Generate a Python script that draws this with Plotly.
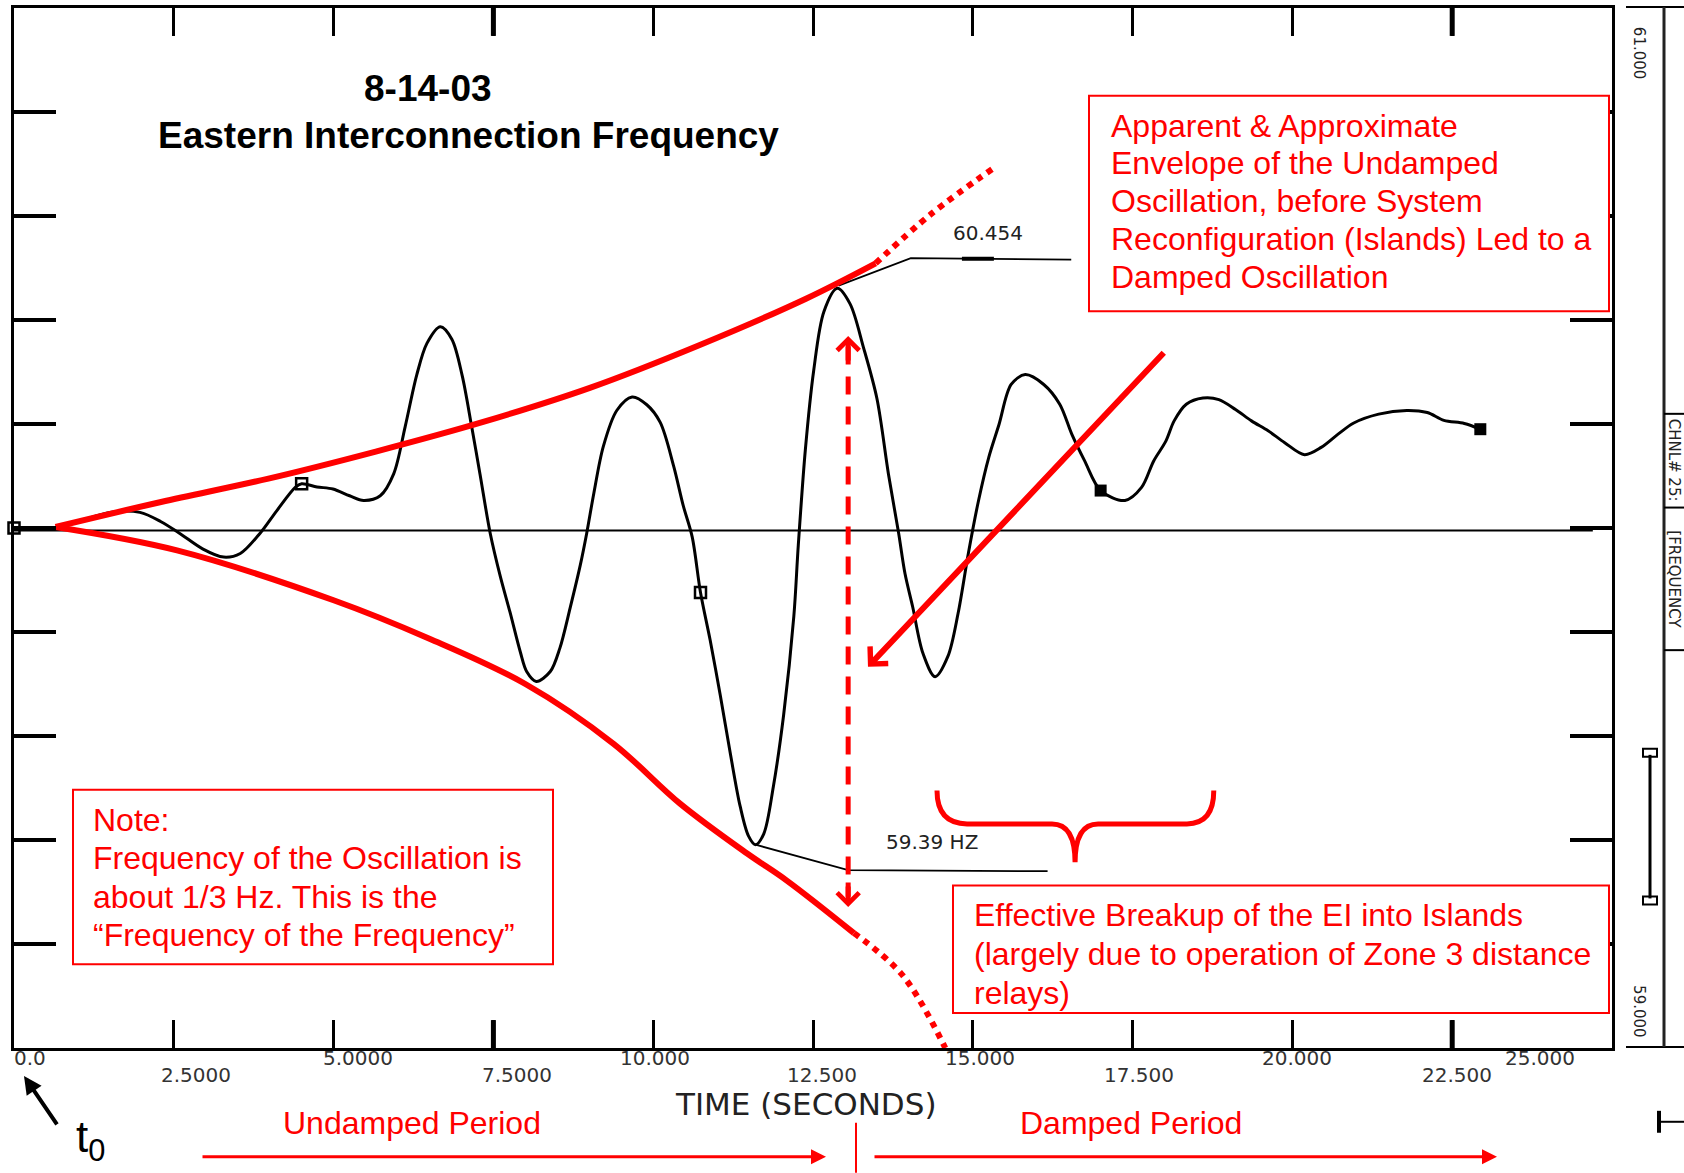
import plotly.graph_objects as go

# ------------------------------------------------------------------ data
T_SEC = [0.0, 0.6, 1.0, 1.5, 1.97, 2.30, 2.60, 2.95, 3.28, 3.54, 3.85, 4.11, 4.40, 4.50,
         4.74, 4.99, 5.25, 5.47, 5.73, 5.94, 6.12, 6.30, 6.46, 6.67, 6.85, 7.01, 7.16,
         7.29, 7.45, 7.61, 7.76, 7.92, 8.02, 8.17, 8.39, 8.54, 8.70, 8.86, 8.96, 9.07,
         9.22, 9.43, 9.67, 9.90, 10.11, 10.32, 10.47, 10.61, 10.74, 10.89, 11.05, 11.21,
         11.36, 11.49, 11.60, 11.73, 11.88, 12.04, 12.20, 12.27, 12.38, 12.51, 12.67,
         12.88, 13.08, 13.29, 13.50, 13.68, 13.84, 13.94, 14.06, 14.22, 14.41, 14.61,
         14.77, 14.93, 15.09, 15.25, 15.41, 15.60, 15.82, 16.11, 16.36, 16.55, 16.75,
         17.00, 17.38, 17.64, 17.83, 18.02, 18.15, 18.34, 18.60, 18.85, 19.11, 19.36,
         19.62, 19.88, 20.19, 20.45, 20.71, 20.96, 21.35, 21.79, 22.11, 22.37, 22.69, 22.94]
FREQ_HZ = [60.000, 60.000, 60.012, 60.030, 60.030, 60.012, 59.989, 59.960, 59.944, 59.951,
           59.990, 60.033, 60.078, 60.085, 60.079, 60.075, 60.062, 60.053, 60.062, 60.104,
           60.195, 60.294, 60.355, 60.387, 60.363, 60.294, 60.195, 60.104, 59.990, 59.906,
           59.838, 59.762, 59.724, 59.705, 59.724, 59.769, 59.846, 59.929, 59.990, 60.066,
           60.157, 60.226, 60.252, 60.237, 60.203, 60.119, 60.043, 59.983, 59.876, 59.785,
           59.678, 59.564, 59.465, 59.408, 59.391, 59.412, 59.503, 59.640, 59.830, 59.967,
           60.150, 60.302, 60.416, 60.461, 60.431, 60.347, 60.249, 60.104, 59.990, 59.912,
           59.848, 59.759, 59.714, 59.753, 59.836, 59.951, 60.053, 60.136, 60.199, 60.276,
           60.295, 60.276, 60.238, 60.180, 60.129, 60.072, 60.053, 60.078, 60.129, 60.167,
           60.206, 60.238, 60.250, 60.247, 60.228, 60.206, 60.187, 60.164, 60.141, 60.155,
           60.180, 60.202, 60.219, 60.226, 60.222, 60.207, 60.201, 60.190]

MARK_OPEN_T = [0.0, 4.50, 10.74]
MARK_OPEN_F = [60.000, 60.085, 59.876]
MARK_FILL_T = [17.00, 22.94]
MARK_FILL_F = [60.072, 60.190]

ENV_UP_T = [0.65, 2.30, 3.98, 5.66, 7.34, 9.02, 10.71, 12.39, 13.48]
ENV_UP_F = [60.002, 60.050, 60.095, 60.147, 60.204, 60.270, 60.351, 60.441, 60.509]
ENV_UP_DOT_T = [13.48, 14.34, 15.30]
ENV_UP_DOT_F = [60.509, 60.603, 60.690]
ENV_LO_T = [0.65, 2.55, 5.00, 6.50, 8.00, 9.38, 10.42, 11.47, 12.09, 13.14]
ENV_LO_F = [60.002, 59.957, 59.861, 59.787, 59.700, 59.585, 59.470, 59.374, 59.322, 59.221]
ENV_LO_DOT_T = [13.14, 13.90, 14.57]
ENV_LO_DOT_F = [59.221, 59.140, 59.000]

PEAK_LEADER_T = [12.90, 14.03, 16.54]
PEAK_LEADER_F = [60.466, 60.519, 60.516]
PEAK_BAR_T = [14.83, 15.33]
PEAK_BAR_F = [60.518, 60.518]
TROUGH_LEADER_T = [11.60, 13.05, 16.17]
TROUGH_LEADER_F = [59.391, 59.342, 59.340]
PEAK_LABEL = "60.454"
PEAK_LABEL_POS = (15.24, 60.567)
TROUGH_LABEL = "59.39 HZ"
TROUGH_LABEL_POS = (14.36, 59.397)

SWING_T = 13.05
SWING_TOP_F = 60.369
SWING_BOT_F = 59.271
DIAG_TAIL = (18.01, 60.340)
DIAG_TIP = (13.36, 59.733)

REF_LEVEL = 59.995
REF_END_T = 24.70

X_RANGE = [0, 25]
Y_RANGE = [59.0, 61.0]
X_TICKS = [0, 2.5, 5, 7.5, 10, 12.5, 15, 17.5, 20, 22.5, 25]
X_TICK_LABELS = ["0.0", "2.5000", "5.0000", "7.5000", "10.000", "12.500",
                 "15.000", "17.500", "20.000", "22.500", "25.000"]
Y_TICKS = [59.0, 59.2, 59.4, 59.6, 59.8, 60.0, 60.2, 60.4, 60.6, 60.8, 61.0]
BOLD_X_TICKS = [7.5, 22.5]
SIDE_TOP_LABEL = "61.000"
SIDE_BOT_LABEL = "59.000"

TITLE_LINES = ["8-14-03", "Eastern Interconnection Frequency"]
ENVELOPE_NOTE = ["Apparent &amp; Approximate", "Envelope of the Undamped",
                 "Oscillation, before System", "Reconfiguration (Islands) Led to a",
                 "Damped Oscillation"]
FREQ_NOTE = ["Note:", "Frequency of the Oscillation is", "about 1/3 Hz. This is the",
             "\u201cFrequency of the Frequency\u201d"]
BREAKUP_NOTE = ["Effective Breakup of the EI into Islands",
                "(largely due to operation of Zone 3 distance", "relays)"]

# ------------------------------------------------------------------ geometry helpers
W, H = 1684, 1173
ML, MR, MT, MB = 14, 72, 5, 125
PW, PH = W - ML - MR, H - MT - MB


def PX(x):
    return (x - ML) / PW


def PY(y):
    return (H - MB - y) / PH


RED = "#ff0000"
ARIAL = "Liberation Sans, Arial, sans-serif"
PIXF = "DejaVu Sans, sans-serif"
GREY = "#333333"

fig = go.Figure()

fig.add_trace(go.Scatter(x=T_SEC, y=FREQ_HZ, mode="lines",
                         line=dict(color="black", width=3, shape="spline", smoothing=0.9),
                         hoverinfo="skip", showlegend=False))
fig.add_trace(go.Scatter(x=MARK_OPEN_T, y=MARK_OPEN_F, mode="markers", cliponaxis=False,
                         marker=dict(symbol="square-open", size=11, color="black",
                                     line=dict(width=2.5, color="black")),
                         showlegend=False, hoverinfo="skip"))
fig.add_trace(go.Scatter(x=MARK_FILL_T, y=MARK_FILL_F, mode="markers", cliponaxis=False,
                         marker=dict(symbol="square", size=12, color="black"),
                         showlegend=False, hoverinfo="skip"))

for xs, ys, w in [(PEAK_LEADER_T, PEAK_LEADER_F, 1.8), (PEAK_BAR_T, PEAK_BAR_F, 4),
                  (TROUGH_LEADER_T, TROUGH_LEADER_F, 1.8)]:
    fig.add_trace(go.Scatter(x=xs, y=ys, mode="lines", line=dict(color="black", width=w),
                             showlegend=False, hoverinfo="skip"))

for xs, ys, dash in [(ENV_UP_T, ENV_UP_F, "solid"), (ENV_LO_T, ENV_LO_F, "solid"),
                     (ENV_UP_DOT_T, ENV_UP_DOT_F, "dot"), (ENV_LO_DOT_T, ENV_LO_DOT_F, "dot")]:
    fig.add_trace(go.Scatter(x=xs, y=ys, mode="lines",
                             line=dict(color=RED, width=6, shape="spline", dash=dash),
                             showlegend=False, hoverinfo="skip"))

fig.add_trace(go.Scatter(x=[SWING_T, SWING_T], y=[SWING_TOP_F - 0.02, SWING_BOT_F + 0.02],
                         mode="lines", line=dict(color=RED, width=5, dash="18px,12px"),
                         showlegend=False, hoverinfo="skip"))

shapes = []
shapes.append(dict(type="line", xref="x", yref="y", x0=0, x1=REF_END_T, y0=REF_LEVEL,
                   y1=REF_LEVEL, line=dict(color="black", width=2), layer="below"))
for xv in BOLD_X_TICKS:
    shapes.append(dict(type="line", xref="x", yref="paper", x0=xv, x1=xv, y0=0, y1=28 / PH,
                       line=dict(color="black", width=5)))
    shapes.append(dict(type="line", xref="x", yref="paper", x0=xv, x1=xv, y0=1,
                       y1=1 - 28 / PH, line=dict(color="black", width=5)))

for (x0, y0, x1, y1) in [(1089, 93, 1609, 309), (73, 789, 553, 964), (953, 885, 1609, 1013)]:
    shapes.append(dict(type="rect", xref="paper", yref="paper", x0=PX(x0), x1=PX(x1),
                       y0=PY(y1), y1=PY(y0), fillcolor="white",
                       line=dict(color=RED, width=2), layer="above"))

brace = ("M 14.44,59.495 Q 14.44,59.431 14.91,59.431 L 16.24,59.431 "
         "Q 16.60,59.431 16.60,59.357 Q 16.60,59.431 16.96,59.431 "
         "L 18.35,59.431 Q 18.77,59.431 18.77,59.495")
shapes.append(dict(type="path", xref="x", yref="y", path=brace,
                   line=dict(color=RED, width=5), layer="above"))

shapes.append(dict(type="line", xref="paper", yref="paper", x0=PX(856), x1=PX(856),
                   y0=PY(1123), y1=PY(1173), line=dict(color=RED, width=2)))


def pline(x0, y0, x1, y1, w=2, c="black"):
    shapes.append(dict(type="line", xref="paper", yref="paper", x0=PX(x0), x1=PX(x1),
                       y0=PY(y0), y1=PY(y1), line=dict(color=c, width=w)))


pline(1626, 4, 1684, 4)
pline(1626, 1047, 1684, 1047)
pline(1664, 4, 1664, 1047, 3, "#222222")
pline(1664, 412, 1684, 412)
pline(1664, 506, 1684, 506)
pline(1664, 649, 1684, 649)
pline(1650, 754, 1650, 898, 3)
for yc in (752, 900):
    shapes.append(dict(type="rect", xref="paper", yref="paper", x0=PX(1643), x1=PX(1657),
                       y0=PY(yc + 4), y1=PY(yc - 4), line=dict(color="black", width=2)))
pline(1659, 1111, 1659, 1133, 4)
pline(1659, 1122, 1684, 1122, 2)

ann = []


def txt(text, x, y, size, family=ARIAL, color="black", xanchor="center", weight="normal",
        angle=0, xref="paper", yref="paper", xshift=0):
    ann.append(dict(text=text, xref=xref, yref=yref, x=x, y=y, xanchor=xanchor,
                    yanchor="middle", showarrow=False, textangle=angle, xshift=xshift,
                    font=dict(family=family, size=size, color=color, weight=weight)))


txt(TITLE_LINES[0], PX(428), PY(86), 37, weight="bold")
txt(TITLE_LINES[1], PX(468), PY(133), 37, weight="bold")

for lines, x0, ystart, step in [(ENVELOPE_NOTE, 1109, 123, 37.9),
                                (FREQ_NOTE, 91, 819.5, 38.3),
                                (BREAKUP_NOTE, 972, 915, 38.7)]:
    for i, s in enumerate(lines):
        txt(s, PX(x0), PY(ystart + i * step), 32, color=RED, xanchor="left")

TICK_SHIFT = [16, 22, 24, 24, 2, 9, 7, 6, 5, 5, -72]
for i, (xv, lab) in enumerate(zip(X_TICKS, X_TICK_LABELS)):
    row_y = 1058 if i % 2 == 0 else 1075
    txt(lab, xv, PY(row_y), 20, family=PIXF, color=GREY, xref="x", xshift=TICK_SHIFT[i])

txt("TIME (SECONDS)", PX(806), PY(1104), 31, family=PIXF, color="#222222")
txt("Undamped Period", PX(412), PY(1123), 32, color=RED)
txt("Damped Period", PX(1131), PY(1123), 32, color=RED)

ann.append(dict(text="", xref="paper", yref="paper", x=PX(826), y=PY(1157), ax=-(826 - 201),
                ay=0, showarrow=True, arrowhead=2, arrowsize=1, arrowwidth=3, arrowcolor=RED))
ann.append(dict(text="", xref="paper", yref="paper", x=PX(1497), y=PY(1157), ax=-(1497 - 873),
                ay=0, showarrow=True, arrowhead=2, arrowsize=1, arrowwidth=3, arrowcolor=RED))
ann.append(dict(text="", xref="paper", yref="paper", x=PX(24), y=PY(1076), ax=34, ay=50,
                showarrow=True, arrowhead=2, arrowsize=0.9, arrowwidth=4, arrowcolor="black"))
txt("t<sub>0</sub>", PX(74), PY(1140), 44, xanchor="left")

txt(PEAK_LABEL, PEAK_LABEL_POS[0], PEAK_LABEL_POS[1], 20, family=PIXF, color="#222222",
    xref="x", yref="y")
txt(TROUGH_LABEL, TROUGH_LABEL_POS[0], TROUGH_LABEL_POS[1], 20, family=PIXF,
    color="#222222", xref="x", yref="y")

ann.append(dict(text="", xref="x", yref="y", x=DIAG_TIP[0], y=DIAG_TIP[1], axref="x",
                ayref="y", ax=DIAG_TAIL[0], ay=DIAG_TAIL[1], showarrow=True, arrowhead=4,
                arrowsize=0.8, arrowwidth=6, arrowcolor=RED))
ann.append(dict(text="", xref="x", yref="y", x=SWING_T, y=SWING_TOP_F, ax=0, ay=26,
                showarrow=True, arrowhead=4, arrowsize=0.85, arrowwidth=5, arrowcolor=RED))
ann.append(dict(text="", xref="x", yref="y", x=SWING_T, y=SWING_BOT_F, ax=0, ay=-26,
                showarrow=True, arrowhead=4, arrowsize=0.85, arrowwidth=5, arrowcolor=RED))

txt(SIDE_TOP_LABEL, PX(1639), PY(50), 15, family=PIXF, color="#222222", angle=90)
txt(SIDE_BOT_LABEL, PX(1639), PY(1011), 15, family=PIXF, color="#222222", angle=90)
txt("CHNL# 25:", PX(1674), PY(459), 15, family=PIXF, color="#222222", angle=90)
txt("[FREQUENCY", PX(1674), PY(578), 15, family=PIXF, color="#222222", angle=90)

fig.update_layout(
    width=W, height=H, margin=dict(l=ML, r=MR, t=MT, b=MB),
    paper_bgcolor="white", plot_bgcolor="white", showlegend=False,
    shapes=shapes, annotations=ann,
    xaxis=dict(range=X_RANGE, tickvals=X_TICKS, showticklabels=False, ticks="inside",
               ticklen=28, tickwidth=2.5, tickcolor="black", showline=True, linewidth=3,
               linecolor="black", mirror="ticks", showgrid=False, zeroline=False),
    yaxis=dict(range=Y_RANGE, tickvals=Y_TICKS, showticklabels=False, ticks="inside",
               ticklen=42, tickwidth=3.5, tickcolor="black", showline=True, linewidth=3,
               linecolor="black", mirror="ticks", showgrid=False, zeroline=False),
)

fig.write_html("out.html", config={"displayModeBar": False},
               post_script="document.body.style.margin='0';document.body.style.overflow='hidden';")
